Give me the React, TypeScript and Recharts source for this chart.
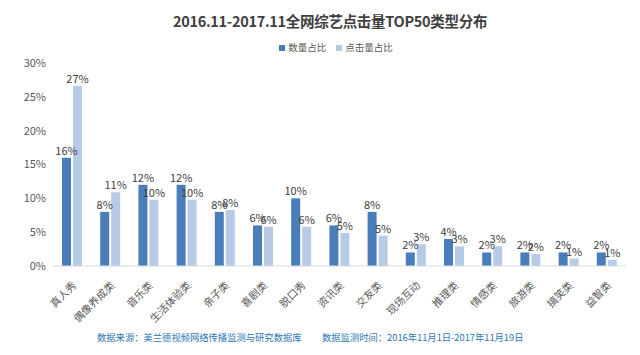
import React from 'react'
import { BarChart, Bar, XAxis, YAxis, LabelList } from 'recharts'

const categories = [
    '真人秀', '偶像养成类', '音乐类', '生活体验类', '亲子类', '喜剧类', '脱口秀', '资讯类',
    '交友类', '现场互动', '推理类', '情感类', '旅游类', '搞笑类', '益智类',
]
const countShare = [16, 8, 12, 12, 8, 6, 10, 6, 8, 2, 4, 2, 2, 2, 2]
const clickShare = [26.6, 10.9, 9.8, 9.8, 8.3, 5.8, 5.8, 4.9, 4.5, 3.2, 2.9, 2.9, 1.8, 1.1, 0.9]
const yTicks = [0, 5, 10, 15, 20, 25, 30]

const chartData = categories.map((name, i) => ({
    name,
    count: countShare[i],
    click: clickShare[i],
}))

const FONT = '"Noto Sans CJK SC", "Noto Sans", sans-serif'
const DARK = '#4a7ebb'
const LIGHT = '#b7cbe6'

// rotated category label, text ends at the tick
const AngledTick = (props: any) => {
    const { x, y, payload } = props
    return (
        <g transform={`translate(${x + 5},${y + 12})`}>
            <text
                x={0}
                y={0}
                textAnchor='end'
                transform='rotate(-45)'
                fontSize={10.5}
                fill='#595959'
                fontFamily={FONT}
            >
                {payload.value}
            </text>
        </g>
    )
}

const pct = (v: any) => `${Math.round(Number(v))}%`

export default function App() {
    return (
        <div style={{ position: 'absolute', left: 0, top: 0, width: 640, height: 355, background: '#fff', fontFamily: FONT }}>
            <div style={{ position: 'absolute', top: 10, left: 10, width: 640, textAlign: 'center', fontSize: 14.5, fontWeight: 700, color: '#404040', letterSpacing: -0.3 }}>
                2016.11-2017.11全网综艺点击量TOP50类型分布
            </div>
            <div style={{ position: 'absolute', top: 40, left: 16, width: 640, textAlign: 'center', fontSize: 9.5, color: '#595959' }}>
                <span style={{ display: 'inline-block', width: 6, height: 6, background: DARK, marginRight: 3 }} />
                数量占比
                <span style={{ display: 'inline-block', width: 6, height: 6, background: LIGHT, marginLeft: 10, marginRight: 3 }} />
                点击量占比
            </div>
            <BarChart
                width={640}
                height={355}
                data={chartData}
                margin={{ top: 63, right: 14, left: 0, bottom: 19 }}
                barSize={9}
                barGap={2}
            >
                <XAxis
                    dataKey='name'
                    interval={0}
                    tick={<AngledTick />}
                    tickLine={false}
                    axisLine={{ stroke: '#d9d9d9' }}
                    height={70}
                />
                <YAxis
                    width={53}
                    domain={[0, 30]}
                    ticks={yTicks}
                    tickFormatter={v => `${v}%`}
                    axisLine={false}
                    tickLine={false}
                    tickMargin={1}
                    tick={{ fontSize: 11, fill: '#595959', fontFamily: FONT }}
                />
                <Bar dataKey='count' fill={DARK} isAnimationActive={false}>
                    <LabelList dataKey='count' position='top' formatter={pct} fontSize={11} fill='#404040' fontFamily={FONT} offset={3} />
                </Bar>
                <Bar dataKey='click' fill={LIGHT} isAnimationActive={false}>
                    <LabelList dataKey='click' position='top' formatter={pct} fontSize={11} fill='#404040' fontFamily={FONT} offset={3} />
                </Bar>
            </BarChart>
            <div style={{ position: 'absolute', top: 330, left: 97, fontSize: 9.3, color: '#2e75b6', whiteSpace: 'nowrap' }}>
                数据来源：美兰德视频网络传播监测与研究数据库
            </div>
            <div style={{ position: 'absolute', top: 330, left: 322, fontSize: 9.3, color: '#2e75b6', whiteSpace: 'nowrap' }}>
                数据监测时间：2016年11月1日-2017年11月19日
            </div>
        </div>
    )
}
